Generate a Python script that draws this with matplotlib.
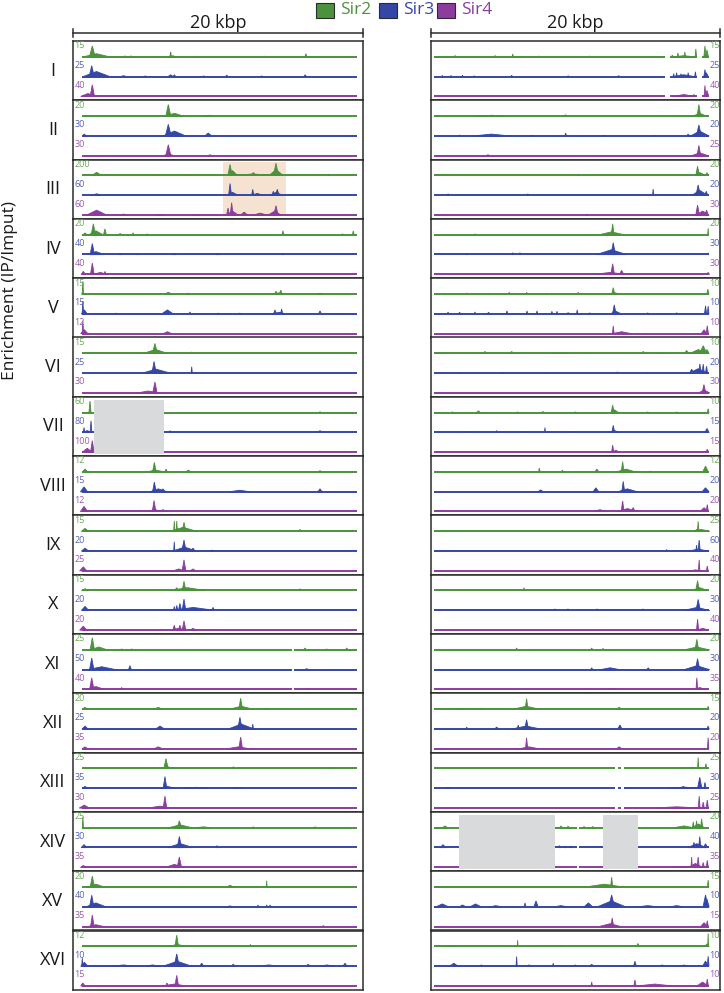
import numpy as np
import matplotlib.pyplot as plt
from matplotlib.patches import Rectangle

plt.rcParams['font.family'] = ['Open Sans', 'DejaVu Sans']

# ---------------------------------------------------------------------------
# data: peaks are (position kbp, height relative to track max, base width kbp)
chromosomes = ['I', 'II', 'III', 'IV', 'V', 'VI', 'VII', 'VIII',
               'IX', 'X', 'XI', 'XII', 'XIII', 'XIV', 'XV', 'XVI']
proteins = ['Sir2', 'Sir3', 'Sir4']

left_max = [[15, 25, 40], [20, 30, 30], [200, 60, 60], [20, 40, 40],
            [15, 15, 12], [15, 25, 30], [60, 80, 100], [12, 15, 12],
            [15, 20, 25], [15, 20, 20], [25, 50, 40], [20, 25, 35],
            [25, 35, 30], [25, 30, 35], [20, 40, 35], [12, 10, 15]]
right_max = [[15, 25, 40], [20, 20, 25], [20, 20, 30], [20, 30, 30],
             [10, 10, 10], [10, 20, 30], [10, 15, 15], [12, 20, 20],
             [25, 60, 40], [20, 30, 40], [20, 30, 35], [15, 20, 20],
             [25, 30, 25], [20, 40, 35], [15, 10, 15], [10, 10, 10]]

left_sir2 = [
    [(1.35, 0.85, 0.4), (1.64, 0.25, 1.9), (3.6, 0.08, 0.3), (4.0, 0.08, 0.3), (6.74, 0.4, 0.12), (6.9, 0.1, 0.4), (8.5, 0.06, 0.2), (13.2, 0.06, 0.2), (16.05, 0.25, 0.15)],
    [(6.58, 0.9, 0.35), (7.0, 0.23, 1.3), (9.4, 0.08, 0.8)],
    [(1.65, 0.25, 0.7), (5.5, 0.05, 0.4), (8.0, 0.05, 0.3), (12.4, 0.12, 3.5), (10.83, 0.85, 0.3), (11.0, 0.38, 0.7), (12.43, 0.23, 0.4), (13.99, 0.95, 0.35), (14.0, 0.46, 1.0), (17.59, 0.12, 0.12)],
    [(0.85, 0.15, 0.3), (1.42, 0.85, 0.3), (1.6, 0.31, 1.0), (2.22, 0.46, 0.2), (3.26, 0.12, 0.15), (4.15, 0.15, 0.15), (5.11, 0.08, 0.15), (14.47, 0.31, 0.15), (18.58, 0.08, 0.15), (19.31, 0.31, 0.12)],
    [(0.7, 1.0, 0.1), (0.75, 0.1, 0.3), (6.58, 0.15, 0.5), (7.96, 0.08, 0.3), (13.99, 0.23, 0.2), (14.32, 0.31, 0.2), (14.2, 0.1, 0.8), (17.02, 0.08, 0.3)],
    [(5.66, 0.77, 0.35), (5.7, 0.31, 1.7), (8.19, 0.12, 0.12)],
    [(1.19, 0.9, 0.15), (17.02, 0.08, 0.2)],
    [(0.85, 0.23, 0.4), (5.62, 0.75, 0.25), (5.7, 0.15, 1.4), (6.42, 0.23, 0.2), (7.96, 0.15, 0.4), (17.02, 0.12, 0.2)],
    [(0.85, 0.23, 0.5), (6.99, 0.8, 0.08), (7.16, 0.8, 0.08), (7.66, 0.7, 0.25), (7.6, 0.31, 1.9), (15.64, 0.15, 0.2)],
    [(0.85, 0.15, 0.5), (7.66, 0.72, 0.25), (7.16, 0.23, 0.3), (7.9, 0.23, 2.6), (15.64, 0.15, 0.15)],
    [(1.35, 0.95, 0.3), (1.8, 0.23, 1.2), (3.37, 0.08, 0.2), (4.06, 0.08, 0.2), (15.99, 0.15, 0.2), (17.48, 0.08, 0.2), (18.86, 0.15, 0.2)],
    [(0.85, 0.15, 0.4), (5.89, 0.15, 0.6), (11.56, 0.85, 0.25), (11.6, 0.23, 1.7), (13.35, 0.08, 0.3)],
    [(6.42, 0.77, 0.3), (6.5, 0.15, 1.0), (11.05, 0.15, 0.12), (17.82, 0.08, 0.2)],
    [(0.7, 0.85, 0.08), (7.34, 0.55, 0.3), (7.4, 0.23, 1.7), (9.0, 0.08, 1.2), (12.43, 0.08, 0.2), (16.68, 0.08, 0.2)],
    [(1.35, 0.85, 0.3), (1.6, 0.23, 1.2), (10.83, 0.15, 0.5), (13.35, 0.5, 0.06)],
    [(7.16, 0.87, 0.25), (7.2, 0.15, 1.4), (12.23, 0.15, 0.15)],
]
left_sir3 = [
    [(1.31, 0.85, 0.35), (1.64, 0.4, 1.9), (3.5, 0.08, 0.5), (5.0, 0.06, 0.3), (6.74, 0.15, 0.4), (7.0, 0.15, 0.2), (9.0, 0.06, 0.3), (10.6, 0.12, 0.2), (13.0, 0.06, 0.3), (16.0, 0.15, 0.2)],
    [(0.8, 0.15, 0.3), (6.58, 0.9, 0.4), (7.0, 0.38, 1.6), (7.16, 0.31, 0.3), (9.33, 0.23, 0.5)],
    [(1.65, 0.12, 0.7), (10.83, 0.9, 0.2), (11.0, 0.23, 0.8), (12.39, 0.46, 0.15), (12.7, 0.15, 0.8), (13.81, 0.31, 0.2), (14.08, 0.46, 0.25), (14.0, 0.23, 0.9)],
    [(1.35, 0.85, 0.3), (1.6, 0.23, 1.2), (3.26, 0.08, 0.15), (4.49, 0.08, 0.15), (7.0, 0.05, 0.3), (10.0, 0.05, 0.3), (14.47, 0.08, 0.15)],
    [(0.7, 1.0, 0.1), (0.8, 0.31, 0.4), (3.0, 0.06, 0.3), (6.52, 0.31, 0.8), (8.07, 0.15, 0.12), (10.0, 0.06, 0.3), (11.5, 0.06, 0.3), (13.92, 0.31, 0.2), (14.38, 0.38, 0.15), (14.2, 0.12, 1.0), (17.02, 0.23, 0.2)],
    [(5.6, 0.9, 0.3), (5.75, 0.31, 2.0), (8.19, 0.5, 0.08)],
    [(0.78, 0.38, 0.1), (1.26, 0.9, 0.12), (1.0, 0.15, 0.6), (6.7, 0.15, 0.12), (17.02, 0.15, 0.3)],
    [(0.78, 0.38, 0.5), (5.62, 0.75, 0.25), (5.9, 0.23, 1.2), (6.21, 0.23, 0.3), (11.5, 0.12, 1.5), (17.02, 0.23, 0.3)],
    [(0.85, 0.23, 0.5), (6.99, 0.72, 0.08), (7.66, 0.85, 0.3), (7.7, 0.31, 1.7), (8.28, 0.23, 0.3), (9.57, 0.08, 0.2)],
    [(0.85, 0.31, 0.5), (6.99, 0.31, 0.1), (7.16, 0.38, 0.15), (7.38, 0.54, 0.2), (7.66, 0.87, 0.25), (8.3, 0.23, 3.0), (9.66, 0.23, 0.2)],
    [(1.31, 0.9, 0.3), (2.0, 0.23, 2.0), (3.94, 0.31, 0.2), (16.1, 0.08, 0.3)],
    [(0.85, 0.23, 0.4), (6.01, 0.23, 0.6), (11.51, 0.9, 0.3), (11.6, 0.38, 1.8), (12.39, 0.38, 0.1)],
    [(0.85, 0.15, 0.4), (6.35, 0.9, 0.25), (6.5, 0.15, 1.2), (8.5, 0.08, 1.8), (11.3, 0.08, 0.8)],
    [(0.78, 0.23, 0.4), (7.34, 0.85, 0.3), (7.4, 0.31, 1.8), (9.93, 0.15, 0.2)],
    [(1.31, 0.9, 0.3), (1.6, 0.31, 1.4), (10.83, 0.08, 0.5), (12.75, 0.15, 0.1), (13.35, 0.15, 0.1), (13.58, 0.15, 0.1)],
    [(0.66, 0.62, 0.08), (0.8, 0.3, 0.5), (3.5, 0.1, 1.5), (5.5, 0.1, 1.0), (7.16, 0.95, 0.35), (7.2, 0.38, 2.0), (8.88, 0.23, 0.3), (11.05, 0.15, 0.3), (13.5, 0.1, 1.5), (16.21, 0.15, 0.3), (17.5, 0.1, 1.0), (18.74, 0.23, 0.3)],
]
left_sir4 = [
    [(1.35, 0.9, 0.3), (1.05, 0.23, 1.0), (6.74, 0.08, 0.15)],
    [(6.58, 0.85, 0.35), (6.6, 0.15, 0.8), (9.45, 0.08, 0.3)],
    [(1.65, 0.38, 1.4), (3.5, 0.08, 0.6), (6.0, 0.06, 0.6), (8.5, 0.06, 0.5), (10.69, 0.54, 0.2), (10.94, 0.95, 0.2), (11.0, 0.31, 0.8), (11.8, 0.23, 0.5), (12.9, 0.15, 1.0), (13.99, 0.72, 0.3), (13.9, 0.31, 0.9)],
    [(0.73, 0.23, 0.3), (1.35, 0.87, 0.25), (1.9, 0.15, 1.0), (2.22, 0.23, 0.15)],
    [(0.7, 1.0, 0.1), (0.8, 0.31, 0.5), (6.52, 0.15, 0.6)],
    [(5.66, 0.85, 0.3), (5.2, 0.15, 1.6)],
    [(1.35, 0.9, 0.25), (1.0, 0.31, 0.7)],
    [(0.78, 0.4, 0.5), (5.6, 0.85, 0.25), (5.7, 0.15, 0.8), (6.21, 0.15, 0.5)],
    [(0.73, 0.31, 0.5), (7.66, 0.85, 0.25), (7.3, 0.15, 0.8), (8.28, 0.15, 0.4)],
    [(0.73, 0.31, 0.5), (6.99, 0.38, 0.2), (7.38, 0.38, 0.2), (7.66, 0.72, 0.25), (8.28, 0.15, 0.4), (7.3, 0.15, 1.0)],
    [(1.31, 0.9, 0.3), (1.6, 0.23, 1.2), (3.37, 0.15, 0.2), (16.21, 0.08, 0.3)],
    [(0.85, 0.15, 0.4), (5.89, 0.15, 0.6), (11.56, 0.9, 0.25), (11.4, 0.15, 1.6)],
    [(0.8, 0.23, 0.7), (6.35, 0.92, 0.25), (6.0, 0.15, 1.7)],
    [(0.73, 0.15, 0.4), (7.34, 0.8, 0.3), (7.0, 0.23, 1.3)],
    [(1.35, 0.9, 0.25), (1.6, 0.15, 1.2), (17.25, 0.08, 0.2)],
    [(0.7, 0.23, 0.3), (7.16, 0.82, 0.25), (6.49, 0.23, 0.2), (7.0, 0.15, 1.7)],
]

right_sir2 = [
    [(1.68, 0.12, 0.1), (4.44, 0.12, 0.1), (5.67, 0.23, 0.1), (7.5, 0.08, 0.1), (11.0, 0.08, 0.1), (17.5, 0.1, 1.6), (16.7, 0.15, 0.1), (17.09, 0.31, 0.1), (17.57, 0.38, 0.1), (18.33, 0.62, 0.1), (18.96, 0.85, 0.15), (19.1, 0.54, 0.2)],
    [(4.2, 0.08, 2.2), (9.33, 0.12, 0.2), (18.54, 0.9, 0.25), (18.6, 0.23, 1.0)],
    [(10.2, 0.12, 0.12), (18.45, 0.72, 0.25), (18.6, 0.23, 0.9), (19.1, 0.23, 0.2)],
    [(3.06, 0.08, 0.15), (12.58, 0.85, 0.2), (12.5, 0.23, 1.8), (19.18, 0.5, 0.06)],
    [(1.0, 0.08, 0.1), (2.5, 0.1, 0.1), (4.0, 0.08, 0.1), (5.43, 0.15, 0.1), (6.63, 0.15, 0.1), (8.0, 0.08, 0.1), (10.2, 0.15, 0.1), (12.62, 0.5, 0.2), (12.7, 0.12, 0.8), (19.16, 0.38, 0.15)],
    [(1.0, 0.06, 0.2), (3.75, 0.15, 0.3), (5.6, 0.15, 0.3), (9.0, 0.08, 1.5), (11.0, 0.06, 0.2), (14.69, 0.15, 0.3), (16.0, 0.08, 0.5), (17.69, 0.23, 0.3), (18.5, 0.3, 1.2), (18.84, 0.6, 0.5), (19.1, 0.3, 0.3)],
    [(1.5, 0.06, 0.3), (3.3, 0.15, 0.3), (6.0, 0.06, 0.3), (7.76, 0.12, 0.1), (10.0, 0.06, 0.3), (12.58, 0.6, 0.2), (12.7, 0.23, 0.6), (15.0, 0.06, 0.3), (17.0, 0.06, 0.3), (19.18, 0.31, 0.12)],
    [(7.51, 0.31, 0.12), (9.1, 0.15, 0.15), (11.49, 0.23, 0.3), (13.27, 0.8, 0.2), (13.5, 0.23, 1.4), (15.16, 0.08, 0.15), (19.0, 0.46, 0.4)],
    [(18.49, 0.77, 0.1), (18.38, 0.15, 0.3), (18.7, 0.15, 1.2)],
    [(6.45, 0.23, 0.1), (18.45, 0.77, 0.25), (18.6, 0.23, 1.2)],
    [(5.94, 0.15, 0.15), (11.13, 0.15, 0.15), (11.91, 0.12, 0.15), (18.4, 0.82, 0.25), (18.4, 0.23, 1.8)],
    [(2.0, 0.06, 0.5), (3.5, 0.08, 0.5), (6.63, 0.82, 0.2), (6.6, 0.23, 1.9), (13.03, 0.15, 0.4), (19.18, 0.23, 0.12)],
    [(18.0, 0.1, 1.0), (18.49, 0.85, 0.08), (19.03, 0.38, 0.12)],
    [(0.99, 0.15, 0.4), (9.0, 0.15, 0.2), (9.5, 0.12, 0.2), (10.6, 0.1, 0.2), (11.2, 0.1, 0.2), (17.5, 0.15, 1.5), (18.15, 0.46, 0.12), (18.38, 0.54, 0.12), (18.73, 0.7, 0.15), (18.5, 0.3, 0.9)],
    [(12.51, 0.77, 0.15), (12.0, 0.23, 2.8), (19.18, 0.55, 0.1)],
    [(1.5, 0.08, 0.5), (4.0, 0.06, 0.3), (6.01, 0.48, 0.06), (9.0, 0.08, 0.4), (12.0, 0.06, 0.3), (14.33, 0.23, 0.2), (19.18, 1.0, 0.06), (19.1, 0.2, 0.3)],
]
right_sir3 = [
    [(0.8, 0.1, 0.1), (1.4, 0.1, 0.1), (2.2, 0.12, 0.1), (3.0, 0.08, 0.1), (5.6, 0.12, 0.1), (9.5, 0.08, 0.1), (13.0, 0.08, 0.2), (17.5, 0.15, 1.6), (16.8, 0.23, 0.1), (17.0, 0.31, 0.1), (17.3, 0.23, 0.1), (17.8, 0.31, 0.1), (18.3, 0.38, 0.1), (18.96, 0.55, 0.15), (19.05, 0.31, 0.3)],
    [(2.0, 0.08, 0.2), (4.2, 0.15, 2.6), (7.0, 0.06, 0.3), (9.33, 0.23, 0.12), (12.0, 0.06, 0.3), (15.5, 0.06, 0.3), (17.8, 0.15, 0.2), (18.54, 0.85, 0.35), (18.6, 0.38, 1.3)],
    [(1.2, 0.12, 0.12), (6.72, 0.12, 0.12), (15.38, 0.48, 0.08), (18.49, 0.8, 0.3), (18.6, 0.38, 1.1), (19.05, 0.31, 0.2)],
    [(2.49, 0.08, 0.15), (5.67, 0.15, 0.1), (6.17, 0.15, 0.1), (12.62, 0.92, 0.3), (12.5, 0.38, 2.1), (19.18, 0.12, 0.1)],
    [(1.2, 0.15, 0.1), (2.0, 0.12, 0.2), (3.06, 0.15, 0.1), (4.0, 0.12, 0.2), (5.27, 0.23, 0.12), (6.66, 0.23, 0.1), (7.35, 0.23, 0.1), (8.38, 0.2, 0.1), (8.73, 0.2, 0.1), (9.5, 0.1, 0.2), (10.13, 0.31, 0.1), (11.0, 0.08, 0.2), (12.69, 0.7, 0.25), (12.8, 0.2, 0.8), (15.0, 0.08, 0.2), (17.0, 0.08, 0.2), (19.0, 0.62, 0.15), (19.18, 0.6, 0.1)],
    [(2.0, 0.06, 0.2), (5.0, 0.06, 0.2), (8.0, 0.06, 0.2), (12.9, 0.1, 0.2), (15.0, 0.06, 0.2), (18.04, 0.31, 0.3), (18.5, 0.35, 1.3), (18.61, 0.72, 0.15), (18.84, 0.7, 0.15), (19.07, 0.54, 0.15)],
    [(2.5, 0.08, 0.2), (4.56, 0.15, 0.12), (6.5, 0.08, 0.2), (7.9, 0.38, 0.06), (10.0, 0.08, 0.2), (12.62, 0.55, 0.2), (12.7, 0.15, 0.8), (15.5, 0.06, 0.2), (19.1, 0.31, 0.3)],
    [(7.6, 0.15, 0.4), (11.42, 0.31, 0.4), (13.31, 0.8, 0.2), (13.6, 0.23, 1.4), (19.0, 0.31, 0.5)],
    [(16.31, 0.12, 0.15), (18.38, 0.46, 0.1), (18.56, 0.85, 0.15), (18.5, 0.15, 1.5)],
    [(8.59, 0.12, 0.15), (9.49, 0.12, 0.15), (11.49, 0.12, 0.15), (14.67, 0.12, 0.15), (18.49, 0.85, 0.3), (18.4, 0.23, 1.8)],
    [(11.13, 0.15, 0.15), (12.4, 0.15, 1.4), (15.04, 0.15, 0.2), (18.45, 0.85, 0.3), (18.4, 0.31, 1.8)],
    [(2.49, 0.15, 0.12), (4.56, 0.15, 0.3), (6.05, 0.31, 0.12), (6.63, 0.72, 0.25), (6.6, 0.23, 2.0), (13.08, 0.31, 0.3), (19.18, 0.23, 0.15)],
    [(1.2, 0.08, 0.3), (17.46, 0.15, 0.3), (17.5, 0.1, 2.0), (18.6, 0.85, 0.3), (18.96, 0.46, 0.15)],
    [(0.85, 0.23, 0.4), (8.9, 0.15, 0.15), (9.3, 0.12, 0.15), (9.7, 0.12, 0.15), (18.2, 0.4, 0.2), (18.4, 0.3, 1.3), (18.6, 0.85, 0.15), (19.0, 0.3, 0.3)],
    [(0.8, 0.23, 0.9), (2.2, 0.15, 0.5), (3.1, 0.23, 0.8), (4.5, 0.1, 0.8), (6.52, 0.31, 0.12), (7.28, 0.46, 0.3), (9.0, 0.1, 1.0), (10.9, 0.31, 0.6), (12.5, 0.46, 2.0), (12.51, 0.92, 0.4), (15.0, 0.1, 1.5), (17.0, 0.1, 1.0), (19.0, 0.92, 0.35), (19.1, 0.6, 0.3)],
    [(1.6, 0.23, 0.6), (3.5, 0.1, 0.3), (5.94, 0.75, 0.08), (6.8, 0.1, 0.4), (8.47, 0.23, 0.1), (10.0, 0.1, 0.3), (11.13, 0.15, 0.3), (14.12, 0.38, 0.2), (16.0, 0.1, 0.4), (17.5, 0.1, 0.4), (19.0, 0.4, 0.4), (19.18, 0.77, 0.12)],
]
right_sir4 = [
    [(17.5, 0.15, 1.6), (18.2, 0.15, 0.2), (18.96, 0.85, 0.12), (19.1, 0.46, 0.25)],
    [(3.96, 0.08, 0.3), (18.54, 0.8, 0.25), (18.6, 0.23, 1.2)],
    [(10.78, 0.08, 0.12), (18.45, 0.77, 0.25), (18.8, 0.31, 0.9), (19.07, 0.38, 0.25)],
    [(12.58, 0.82, 0.25), (12.4, 0.15, 2.3), (13.2, 0.31, 0.3), (19.18, 0.15, 0.2)],
    [(12.62, 0.6, 0.12), (13.2, 0.15, 1.4), (18.9, 0.3, 0.4), (19.12, 0.62, 0.15)],
    [(18.89, 0.65, 0.25), (18.9, 0.23, 0.8)],
    [(12.58, 0.55, 0.15), (12.8, 0.15, 0.6), (19.12, 0.23, 0.2)],
    [(11.7, 0.15, 0.9), (13.27, 0.82, 0.2), (14.0, 0.31, 0.25), (13.6, 0.23, 1.5), (18.9, 0.3, 0.6), (19.12, 0.54, 0.15)],
    [(18.56, 0.85, 0.1), (18.3, 0.08, 0.8), (19.12, 0.38, 0.12)],
    [(18.45, 0.85, 0.15), (18.8, 0.15, 0.8)],
    [(11.13, 0.08, 0.15), (12.4, 0.08, 1.4), (18.4, 0.9, 0.12), (18.6, 0.15, 0.8)],
    [(6.63, 0.85, 0.15), (6.8, 0.15, 1.4), (13.03, 0.15, 0.4), (19.18, 0.85, 0.1)],
    [(17.0, 0.1, 3.5), (18.56, 0.92, 0.12), (18.84, 0.46, 0.15), (19.12, 0.62, 0.15)],
    [(17.5, 0.08, 1.5), (18.04, 0.8, 0.08), (18.3, 0.3, 1.0), (18.49, 0.8, 0.15), (18.84, 0.38, 0.15), (19.12, 0.54, 0.15)],
    [(12.4, 0.23, 1.6), (12.55, 0.67, 0.2), (18.9, 0.31, 0.5), (19.12, 0.46, 0.15)],
    [(11.13, 0.31, 0.1), (14.12, 0.46, 0.15), (15.5, 0.15, 2.5), (18.8, 0.3, 0.8), (19.12, 0.54, 0.15)],
]

# sequenced extent of each column and gaps without data (kbp)
left_extent = (0.64, 19.57)
right_extent = (0.23, 19.23)
left_gaps = {'XI': [(15.1, 15.25)]}
right_gaps = {'I': [(16.19, 16.54), (18.42, 18.73)],
              'XIII': [(12.74, 12.94), (13.15, 13.36)],
              'XIV': [(10.11, 10.25)]}
# grey = unmappable region, orange = highlighted region
left_masked = {'VII': [(1.47, 6.28)]}
right_masked = {'XIV': [(1.96, 8.59), (11.91, 14.33)]}
left_highlight = {'III': [(10.34, 14.68)]}

colors = ['#4b923c', '#3447a6', '#8b3c9e']
label_colors = ['#6aa95a', '#5563b3', '#9b5aae']

# ---------------------------------------------------------------------------
W, H = 724, 993
fig = plt.figure(figsize=(W / 100, H / 100), dpi=100)

panel_top = 41.0
panel_h = 59.3
slot_px = panel_h / 3
scale = 13.0 / slot_px       # full-scale peak height in slot units
base_off = 3.8 / slot_px     # baseline above slot bottom

columns = [
    (72.7, 363.3, [left_sir2, left_sir3, left_sir4], left_max, left_extent,
     left_gaps, left_masked, left_highlight, 'left'),
    (430.7, 720.0, [right_sir2, right_sir3, right_sir4], right_max, right_extent,
     right_gaps, right_masked, {}, 'right'),
]

for x0, x1, tracks, maxes, extent, gaps, masked, highlight, side in columns:
    for i, chrom in enumerate(chromosomes):
        top = panel_top + panel_h * i
        ax = fig.add_axes([x0 / W, 1 - (top + panel_h) / H, (x1 - x0) / W, panel_h / H])
        ax.set_xlim(0, 20)
        ax.set_ylim(0, 3)
        ax.set_xticks([])
        ax.set_yticks([])
        for sp in ax.spines.values():
            sp.set_linewidth(1.1)
            sp.set_color('#2b2b2b')

        for a, b in highlight.get(chrom, []):
            ax.add_patch(Rectangle((a, 0.2), b - a, 2.68, facecolor='#f6e2d0',
                                   edgecolor='none', zorder=0))

        # segments of baseline
        segs = []
        start = extent[0]
        for a, b in gaps.get(chrom, []):
            segs.append((start, a))
            start = b
        segs.append((start, extent[1]))

        for k in range(3):
            base = (2 - k) + base_off
            c = colors[k]
            for a, b in segs:
                ax.hlines(base + 0.01, a, b, color=c, lw=1.4, zorder=2)
            for pos, h, w in tracks[k][i]:
                ax.fill([pos - w / 2, pos, pos + w / 2],
                        [base, base + h * scale, base],
                        facecolor=c, edgecolor=c, lw=0.6, zorder=3)
            lab_y = base + 0.56
            lab_x = 0.12 if side == 'left' else 19.28
            ax.text(lab_x, lab_y, str(maxes[i][k]), color=label_colors[k],
                    fontsize=6.5, ha='left', va='center', zorder=4, clip_on=False)

        for a, b in masked.get(chrom, []):
            ax.add_patch(Rectangle((a, 0.12), b - a, 2.7, facecolor='#d9dadc',
                                   edgecolor='none', zorder=5))

        if side == 'left':
            fig.text(53 / W, 1 - (top + panel_h / 2) / H, chrom, fontsize=13,
                     ha='center', va='center', color='#1a1a1a')

# overlay for legend, scale bars and axis label
ov = fig.add_axes([0, 0, 1, 1], facecolor='none')
ov.set_xlim(0, W)
ov.set_ylim(H, 0)
ov.axis('off')

for x0, x1 in [(72.7, 363.3), (430.7, 720.0)]:
    ov.plot([x0, x1], [32.5, 32.5], color='#2b2b2b', lw=1.1)
    ov.plot([x0, x0], [28.5, 36.5], color='#2b2b2b', lw=1.1)
    ov.plot([x1, x1], [28.5, 36.5], color='#2b2b2b', lw=1.1)
    ov.text((x0 + x1) / 2, 31.5, '20 kbp', fontsize=13, ha='center', va='bottom',
            color='#1a1a1a')

legend_x = [316, 379.3, 437.3]
for k, name in enumerate(proteins):
    ov.add_patch(Rectangle((legend_x[k], 2.7), 17.5, 15.6, facecolor=colors[k],
                           edgecolor='#2b2b2b', lw=0.8))
    ov.text(legend_x[k] + 24, 10.5, name, fontsize=12.5, color=colors[k],
            ha='left', va='center')

ov.text(10, 291, 'Enrichment (IP/Imput)', rotation=90, fontsize=12.5,
        ha='center', va='center', color='#1a1a1a')

fig.savefig('out.png', dpi=100)
